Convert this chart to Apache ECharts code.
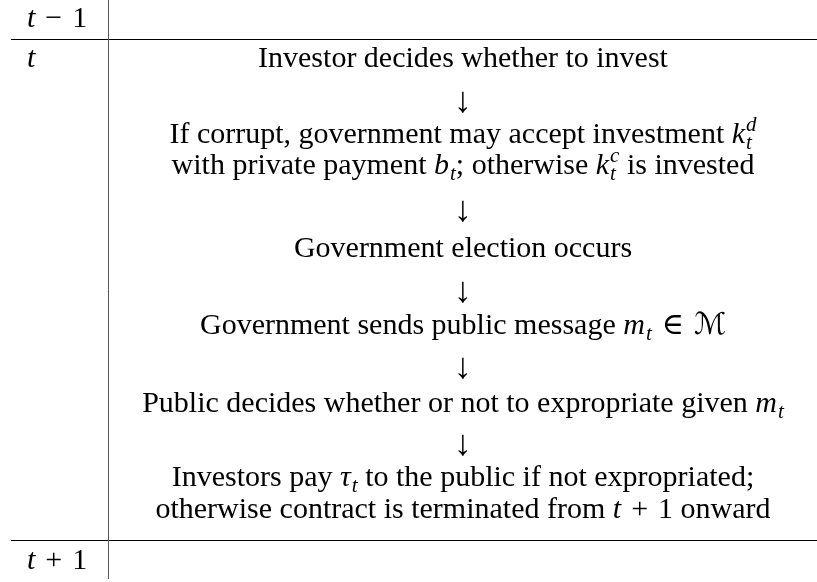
<!DOCTYPE html>
<html>
<head>
<meta charset="utf-8">
<script src="https://cdn.jsdelivr.net/npm/echarts@6/dist/echarts.min.js"></script>
<style>
  html, body { margin: 0; background: #fff; }
  #main { width: 817px; height: 582px; }
</style>
</head>
<body>
<div id="main"></div>
<script>
// period labels, left column
var periods = ['{i|t}\u2004−\u20041', '{i|t}', '{i|t}\u2004+\u20041'];

// timeline inside period t, one entry per printed line
// {i|..} math italic, {b|..} subscript, {p|..} superscript, {a|..} arrow
var steps = [
  'Investor decides whether to invest',
  '{a|↓}',
  'If corrupt, government may accept investment {i|k}{b|t}{p|d}',
  'with private payment {i|b}{b|t}; otherwise {i|k}{b|t}{p|c} is invested',
  '{a|↓}',
  'Government election occurs',
  '{a|↓}',
  'Government sends public message {i|m}{b|t}\u2004∈\u2004{i|ℳ}',
  '{a|↓}',
  'Public decides whether or not to expropriate given {i|m}{b|t}',
  '{a|↓}',
  'Investors pay {i|τ}{b|t} to the public if not expropriated;',
  'otherwise contract is terminated from {i|t}\u2004+\u20041 onward'
];

// layout
var FS = 30, SS = 21;
var FAMILY = '"Liberation Serif", "DejaVu Serif", "DejaVu Sans", serif';
var colX = 108.5, midX = 463, leftX = 27;
var periodY = [27, 67, 569];
var stepY = [67, 112, 143, 174, 221, 257, 302, 334, 378, 412, 455, 486, 518];
var ruleY = [39.5, 540.5];

var fonts = {
  r: 'normal ' + FS + 'px ' + FAMILY,
  i: 'italic ' + FS + 'px ' + FAMILY,
  b: 'italic ' + SS + 'px ' + FAMILY,
  p: 'italic ' + SS + 'px ' + FAMILY,
  a: 'normal 36px ' + FAMILY
};
var shiftY = { r: 0, i: 0, b: 6, p: -12, a: 0 };

var ctx = document.createElement('canvas').getContext('2d');
function measure(text, font) {
  ctx.font = font;
  return ctx.measureText(text).width;
}
// distance from the 'middle' line to the alphabetic baseline
function midOffset(font) {
  ctx.font = font;
  ctx.textBaseline = 'middle';
  var d = ctx.measureText('H').actualBoundingBoxDescent;
  ctx.textBaseline = 'alphabetic';
  return d;
}

function parse(str) {
  var out = [], re = /\{(\w)\|([^}]*)\}/g, last = 0, m;
  while ((m = re.exec(str))) {
    if (m.index > last) out.push({ t: 'r', s: str.slice(last, m.index) });
    out.push({ t: m[1], s: m[2] });
    last = re.lastIndex;
  }
  if (last < str.length) out.push({ t: 'r', s: str.slice(last) });
  return out;
}

// graphic text elements for one line
function layoutLine(str, x0, baseline, align) {
  var frags = parse(str), placed = [], x = 0;
  for (var k = 0; k < frags.length; k++) {
    var f = frags[k], w = measure(f.s, fonts[f.t]);
    if (f.t === 'b' && frags[k + 1] && frags[k + 1].t === 'p') {
      var g = frags[k + 1], w2 = measure(g.s, fonts.p);
      placed.push({ f: f, x: x + 1 }, { f: g, x: x + 1 });
      x += Math.max(w, w2) + 1;
      k++;
      continue;
    }
    if (f.t === 'b') { placed.push({ f: f, x: x + 1 }); x += w + 1; continue; }
    placed.push({ f: f, x: x });
    x += w;
  }
  var start = align === 'center' ? x0 - x / 2 : x0;
  return placed.map(function (p) {
    var font = fonts[p.f.t];
    return {
      type: 'text',
      x: start + p.x,
      y: baseline + shiftY[p.f.t] - midOffset(font),
      silent: true,
      style: {
        text: p.f.s,
        font: font,
        fill: '#000',
        textAlign: 'left',
        textVerticalAlign: 'middle'
      }
    };
  });
}

var elements = [];
ruleY.forEach(function (y) {
  elements.push({
    type: 'line',
    shape: { x1: 11, y1: y, x2: 817, y2: y },
    style: { stroke: '#000', lineWidth: 1.2 }
  });
});
elements.push({
  type: 'line',
  shape: { x1: colX, y1: 0, x2: colX, y2: 579 },
  style: { stroke: '#555', lineWidth: 1 }
});
periods.forEach(function (p, i) {
  elements = elements.concat(layoutLine(p, leftX, periodY[i], 'left'));
});
steps.forEach(function (s, i) {
  elements = elements.concat(layoutLine(s, midX, stepY[i], 'center'));
});

var chart = echarts.init(document.getElementById('main'), null, { renderer: 'canvas' });
chart.setOption({
  backgroundColor: '#fff',
  animation: false,
  graphic: { elements: elements }
});
</script>
</body>
</html>
